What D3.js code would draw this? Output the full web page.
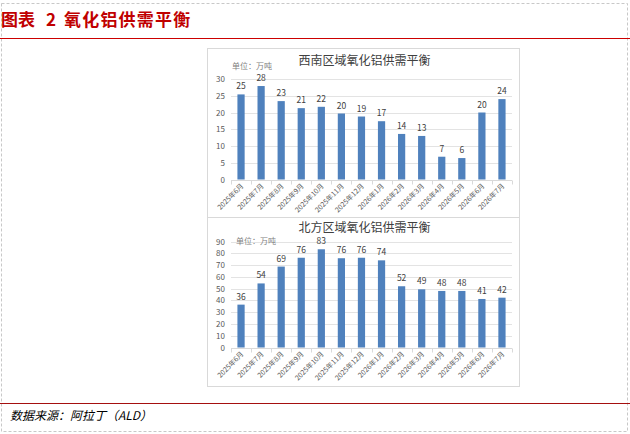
<!DOCTYPE html>
<html>
<head>
<meta charset="utf-8">
<script src="https://cdn.jsdelivr.net/npm/d3@7"></script>
<style>
  body { margin: 0; background: #fff; }
  svg { display: block; font-family: "Noto Sans CJK SC", "Noto Sans", sans-serif; }
</style>
</head>
<body>
<div id="chart"></div>
<script>
// Chart data
var months = ["2025年6月", "2025年7月", "2025年8月", "2025年9月", "2025年10月", "2025年11月", "2025年12月",
              "2026年1月", "2026年2月", "2026年3月", "2026年4月", "2026年5月", "2026年6月", "2026年7月"];
var southwest = [25.4, 27.9, 23.4, 21.3, 21.7, 19.7, 18.8, 17.4, 13.6, 13.0, 6.8, 6.4, 20.0, 24.0];
var north = [36.4, 54.4, 68.7, 76.2, 83.4, 75.8, 76.2, 74.0, 52.0, 49.4, 48.0, 48.0, 41.2, 42.3];
var southwestTicks = [0, 5, 10, 15, 20, 25, 30];
var northTicks = [0, 10, 20, 30, 40, 50, 60, 70, 80, 90];

var W = 630, H = 434;
var svg = d3.select("#chart").append("svg")
  .attr("width", W).attr("height", H);

// outer dashed frame
svg.append("rect")
  .attr("x", 1.5).attr("y", 3.5).attr("width", 626).attr("height", 428)
  .attr("fill", "none").attr("stroke", "#c8c8c8").attr("stroke-dasharray", "3,2");

// figure title (three pieces, spaced like the original)
var title = svg.append("text")
  .attr("y", 26)
  .attr("fill", "#c00000")
  .style("font-size", "17px")
  .style("font-weight", "bold");
title.append("tspan").attr("x", 1).text("图表");
title.append("tspan").attr("x", 46).text("2");
title.append("tspan").attr("x", 64).style("letter-spacing", "1.2px").text("氧化铝供需平衡");

svg.append("line")
  .attr("x1", 0).attr("x2", W).attr("y1", 38.5).attr("y2", 38.5)
  .attr("stroke", "#cc0000").attr("stroke-width", 1.2);

// footer
svg.append("line")
  .attr("x1", 0).attr("x2", W).attr("y1", 403.5).attr("y2", 403.5)
  .attr("stroke", "#a50f0f").attr("stroke-width", 1.2);

svg.append("text")
  .attr("x", 10).attr("y", 420)
  .attr("fill", "#000")
  .style("font-size", "12px")
  .style("font-style", "italic")
  .text("数据来源：阿拉丁（ALD）");

// chart panels
svg.append("rect")
  .attr("x", 207.5).attr("y", 48.5).attr("width", 312).attr("height", 338)
  .attr("fill", "#fff").attr("stroke", "#d9d9d9");
svg.append("line")
  .attr("x1", 207.5).attr("x2", 519.5).attr("y1", 217.5).attr("y2", 217.5)
  .attr("stroke", "#d9d9d9");

var drawPanel = function(opts) {
  var g = svg.append("g");

  var x = d3.scaleBand()
    .domain(months)
    .range([231, 512]);

  var y = d3.scaleLinear()
    .domain([0, d3.max(opts.ticks)])
    .range([opts.y0, opts.y1]);

  // gridlines
  g.selectAll(".grid")
    .data(opts.ticks.filter(function(t) { return t > 0; }))
    .enter()
    .append("line")
    .attr("x1", 231).attr("x2", 512)
    .attr("y1", function(d) { return Math.round(y(d)) + 0.5; })
    .attr("y2", function(d) { return Math.round(y(d)) + 0.5; })
    .attr("stroke", "#e3e3e3");

  // y tick labels
  g.selectAll(".ylab")
    .data(opts.ticks)
    .enter()
    .append("text")
    .attr("x", 225)
    .attr("y", function(d) { return y(d) + 3; })
    .attr("text-anchor", "end")
    .attr("fill", "#595959")
    .style("font-size", "8px")
    .text(function(d) { return d; });

  // bars
  var bw = x.bandwidth() * 0.36;
  g.selectAll(".bar")
    .data(opts.values)
    .enter()
    .append("rect")
    .attr("x", function(d, i) { return x(months[i]) + (x.bandwidth() - bw) / 2; })
    .attr("y", function(d) { return y(d); })
    .attr("width", bw)
    .attr("height", function(d) { return y(0) - y(d); })
    .attr("fill", "#4f81bd");

  // value labels
  g.selectAll(".val")
    .data(opts.values)
    .enter()
    .append("text")
    .attr("x", function(d, i) { return x(months[i]) + x.bandwidth() / 2; })
    .attr("y", function(d) { return y(d) - 5; })
    .attr("text-anchor", "middle")
    .attr("fill", "#404040")
    .style("font-size", "8.5px")
    .text(function(d) { return d3.format(".0f")(d); });

  // x axis line and ticks
  var base = Math.round(y(0)) + 0.5;
  g.append("line")
    .attr("x1", 231).attr("x2", 512).attr("y1", base).attr("y2", base)
    .attr("stroke", "#d9d9d9");
  g.selectAll(".tick")
    .data(months.concat(["end"]))
    .enter()
    .append("line")
    .attr("x1", function(d, i) { return Math.round(231 + i * x.step()) + 0.5; })
    .attr("x2", function(d, i) { return Math.round(231 + i * x.step()) + 0.5; })
    .attr("y1", base).attr("y2", base + 4)
    .attr("stroke", "#d9d9d9");

  // x labels
  g.selectAll(".xlab")
    .data(months)
    .enter()
    .append("text")
    .attr("transform", function(d) {
      return "translate(" + (x(d) + x.bandwidth() / 2 + 3) + "," + (base + 6) + ") rotate(-45)";
    })
    .attr("text-anchor", "end")
    .attr("fill", "#595959")
    .style("font-size", "7px")
    .text(function(d) { return d; });

  // titles
  g.append("text")
    .attr("x", 364.5).attr("y", opts.titleY)
    .attr("text-anchor", "middle")
    .attr("fill", "#404040")
    .style("font-size", "12px")
    .text(opts.title);

  g.append("text")
    .attr("x", opts.unitX).attr("y", opts.unitY)
    .attr("fill", "#7f7f7f")
    .style("font-size", "8px")
    .text("单位：万吨");
};

drawPanel({ values: southwest, ticks: southwestTicks, y0: 179.5, y1: 79, title: "西南区域氧化铝供需平衡",
            titleY: 64.5, unitX: 232, unitY: 68.5 });
drawPanel({ values: north, ticks: northTicks, y0: 347.5, y1: 241.5, title: "北方区域氧化铝供需平衡",
            titleY: 231.5, unitX: 236, unitY: 244 });
</script>
</body>
</html>
